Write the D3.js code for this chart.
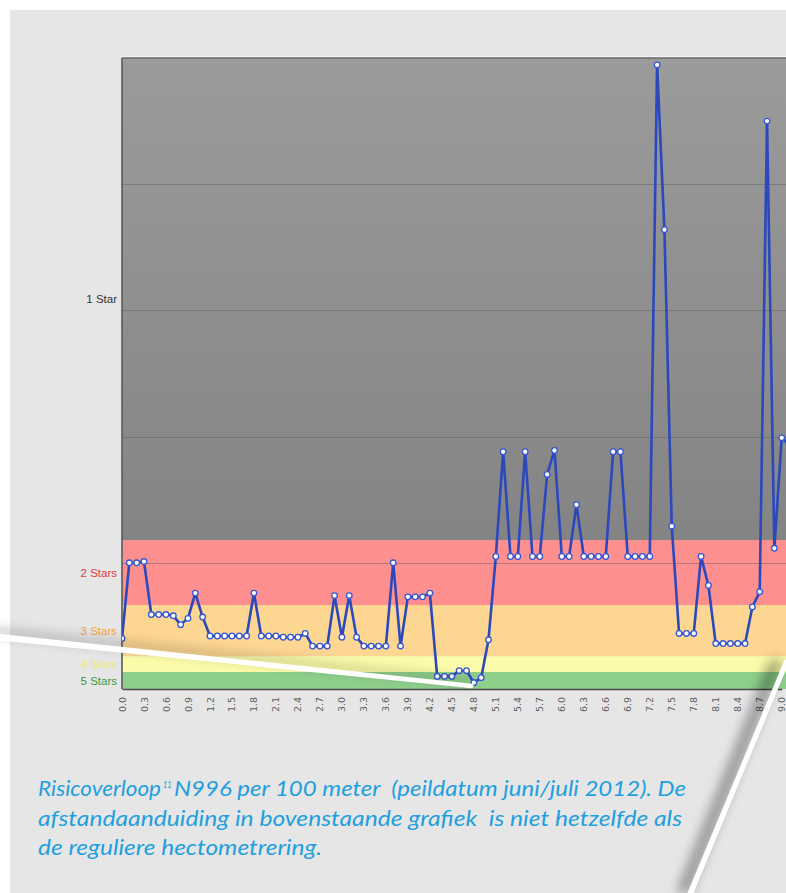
<!DOCTYPE html>
<html>
<head>
<meta charset="utf-8">
<script src="https://cdn.jsdelivr.net/npm/d3@7"></script>
<style>
  html,body{margin:0;padding:0;background:#fff;}
  svg{display:block;}
</style>
</head>
<body>
<svg id="chart" width="786" height="893"></svg>
<script>
// ---- data ----
const distances = d3.range(0, 92).map(i => +(i / 10).toFixed(1)); // 0.0 .. 9.1 km
const risk = [
  0.40, 1.00, 1.00, 1.01, 0.59, 0.59, 0.59, 0.58, 0.51, 0.56,
  0.76, 0.57, 0.42, 0.42, 0.42, 0.42, 0.42, 0.42, 0.76, 0.42,
  0.42, 0.42, 0.41, 0.41, 0.41, 0.44, 0.34, 0.34, 0.34, 0.74,
  0.41, 0.74, 0.41, 0.34, 0.34, 0.34, 0.34, 1.00, 0.34, 0.73,
  0.73, 0.73, 0.76, 0.10, 0.10, 0.10, 0.145, 0.145, 0.05, 0.09,
  0.39, 1.05, 1.88, 1.05, 1.05, 1.88, 1.05, 1.05, 1.70, 1.89,
  1.05, 1.05, 1.46, 1.05, 1.05, 1.05, 1.05, 1.88, 1.88, 1.05,
  1.05, 1.05, 1.05, 4.945, 3.64, 1.29, 0.44, 0.44, 0.44, 1.05,
  0.82, 0.36, 0.36, 0.36, 0.36, 0.36, 0.65, 0.77, 4.50, 1.115,
  1.99, 1.94
];
const tickLabels = ["0.0","0.3","0.6","0.9","1.2","1.5","1.8","2.1","2.4","2.7","3.0",
  "3.3","3.6","3.9","4.2","4.5","4.8","5.1","5.4","5.7","6.0","6.3","6.6","6.9",
  "7.2","7.5","7.8","8.1","8.4","8.7","9.0"];
const bandNames  = ["5 Stars","4 Stars","3 Stars","2 Stars","1 Star"];
const bandLower  = [0, 0.135, 0.26, 0.665, 1.18];
const bandUpper  = [0.135, 0.26, 0.665, 1.18, 5];
const bandFill   = ["#8fcf8c","#fbfba9","#fdd692","#fe8f8f","url(#greyGrad)"];
const bandText   = ["#3a9a3a","#eeea78","#f2a83c","#e03a3a","#333333"];
const gridValues = [1, 2, 3, 4];

// ---- layout ----
const svg = d3.select("#chart");
const W = 786, H = 893;
const plotL = 122, plotT = 58, plotB = 689, plotR = 810;

const x = d3.scaleLinear().domain([0, 9]).range([plotL, plotL + 9 * 73.3]);
const y = d3.scaleLinear().domain([0, 5]).range([plotB, plotT]);

const defs = svg.append("defs");
const gg = defs.append("linearGradient").attr("id","greyGrad")
  .attr("x1",0).attr("y1",0).attr("x2",0).attr("y2",1);
gg.append("stop").attr("offset","0%").attr("stop-color","#9b9b9b");
gg.append("stop").attr("offset","100%").attr("stop-color","#848484");
defs.append("filter").attr("id","blur6").attr("x","-50%").attr("y","-50%").attr("width","200%").attr("height","200%")
  .append("feGaussianBlur").attr("stdDeviation",6);
defs.append("clipPath").attr("id","plotClip").append("rect")
  .attr("x",plotL).attr("y",plotT - 10).attr("width",plotR - plotL).attr("height",plotB - plotT + 10);

// page background
svg.append("rect").attr("width",W).attr("height",H).attr("fill","#ffffff");
svg.append("rect").attr("x",10).attr("y",10).attr("width",W).attr("height",H).attr("fill","#e6e6e6");

// bands
const bands = bandNames.map((n,i)=>({name:n, lo:bandLower[i], hi:bandUpper[i], fill:bandFill[i], text:bandText[i]}));
svg.append("g").selectAll("rect").data(bands).join("rect")
  .attr("x", plotL).attr("width", plotR - plotL)
  .attr("y", d => y(d.hi)).attr("height", d => y(d.lo) - y(d.hi))
  .attr("fill", d => d.fill);

// gridlines
svg.append("g").selectAll("line").data(gridValues).join("line")
  .attr("x1", plotL).attr("x2", plotR)
  .attr("y1", d => Math.round(y(d)) + 0.5).attr("y2", d => Math.round(y(d)) + 0.5)
  .attr("stroke", "#5a5a5a").attr("stroke-opacity", 0.45).attr("stroke-width", 1);

// plot border
svg.append("line").attr("x1",plotL).attr("x2",plotR).attr("y1",plotT-1.5).attr("y2",plotT-1.5)
  .attr("stroke","#f4f4f4").attr("stroke-width",1);
svg.append("line").attr("x1",plotL).attr("x2",plotR).attr("y1",plotT).attr("y2",plotT)
  .attr("stroke","#6a6a6a").attr("stroke-width",1.5);
svg.append("line").attr("x1",plotL).attr("x2",plotL).attr("y1",plotT).attr("y2",plotB)
  .attr("stroke","#5a5a5a").attr("stroke-width",1.6);

// x axis
const xAxis = d3.axisBottom(x)
  .tickValues(tickLabels.map(Number))
  .tickFormat((d,i) => tickLabels[i])
  .tickSize(0).tickPadding(0);
const ax = svg.append("g").attr("transform", `translate(0,${plotB})`).call(xAxis);
ax.select(".domain").attr("stroke","#4a4a4a").attr("stroke-width",1.6);
ax.selectAll("text")
  .attr("transform","rotate(-90)")
  .attr("x", -8).attr("y", 0).attr("dy","0.32em")
  .attr("text-anchor","end")
  .attr("fill","#5e5e5e").attr("font-size", 9.5)
  .attr("font-family","'DejaVu Sans', sans-serif");

// band labels
svg.append("g").selectAll("text").data(bands).join("text")
  .attr("x", 117).attr("y", d => y((d.lo + Math.min(d.hi, 5)) / 2))
  .attr("dy","0.35em").attr("text-anchor","end")
  .attr("font-size", 11.5).attr("font-family","'Liberation Sans', Arial, sans-serif")
  .attr("fill", d => d.text)
  .text(d => d.name);

// line + markers
const pts = distances.map((d,i) => ({d, v: risk[i]}));
const gLine = svg.append("g").attr("clip-path","url(#plotClip)");
gLine.append("path").datum(pts)
  .attr("fill","none").attr("stroke","#2b48bd").attr("stroke-width",2.6)
  .attr("stroke-linejoin","round")
  .attr("d", d3.line().x(p => x(p.d)).y(p => y(p.v)));
gLine.selectAll("circle").data(pts).join("circle")
  .attr("cx", p => x(p.d)).attr("cy", p => y(p.v)).attr("r", 2.8)
  .attr("fill","#ffffff").attr("stroke","#3656d4").attr("stroke-width",1.3);

// decorative page-fold lines
svg.append("path")
  .attr("d", `M-10,628 L472,680 L472,684 L-10,634 Z`)
  .attr("fill","#000").attr("opacity",0.3).attr("filter","url(#blur6)");
svg.append("path")
  .attr("d", `M-5,633.5 L472,683.8 Q475,686 472,688.2 L-5,640 Z`)
  .attr("fill","#ffffff");
svg.append("path")
  .attr("d", `M770,660 L676,893 L690,893 L784,660 Z`)
  .attr("fill","#000").attr("opacity",0.35).attr("filter","url(#blur6)");
svg.append("path")
  .attr("d", `M784.5,660 L687.5,893 L693.5,893 L790,660 Z`)
  .attr("fill","#ffffff");

// caption
const capColor = "#1e9fdf";
const capFont = "Lato, 'Open Sans', sans-serif";
const cap = svg.append("g").attr("font-family", capFont).attr("font-style","italic")
  .attr("font-size", 20.5).attr("fill", capColor);
cap.append("text").attr("x",38).attr("y",796).attr("textLength",123).attr("lengthAdjust","spacingAndGlyphs")
  .text("Risicoverloop");
cap.append("text").attr("x",163).attr("y",788).attr("font-size",9.5).attr("textLength",8.5).attr("lengthAdjust","spacingAndGlyphs")
  .text("11");
cap.append("text").attr("x",174).attr("y",796).attr("textLength",512).attr("lengthAdjust","spacingAndGlyphs")
  .attr("xml:space","preserve")
  .text("N996 per 100 meter  (peildatum juni/juli 2012). De");
cap.append("text").attr("x",38).attr("y",826).attr("textLength",644).attr("lengthAdjust","spacingAndGlyphs")
  .attr("xml:space","preserve")
  .text("afstandaanduiding in bovenstaande grafiek  is niet hetzelfde als");
cap.append("text").attr("x",38).attr("y",855).attr("textLength",284).attr("lengthAdjust","spacingAndGlyphs")
  .text("de reguliere hectometrering.");
</script>
</body>
</html>
